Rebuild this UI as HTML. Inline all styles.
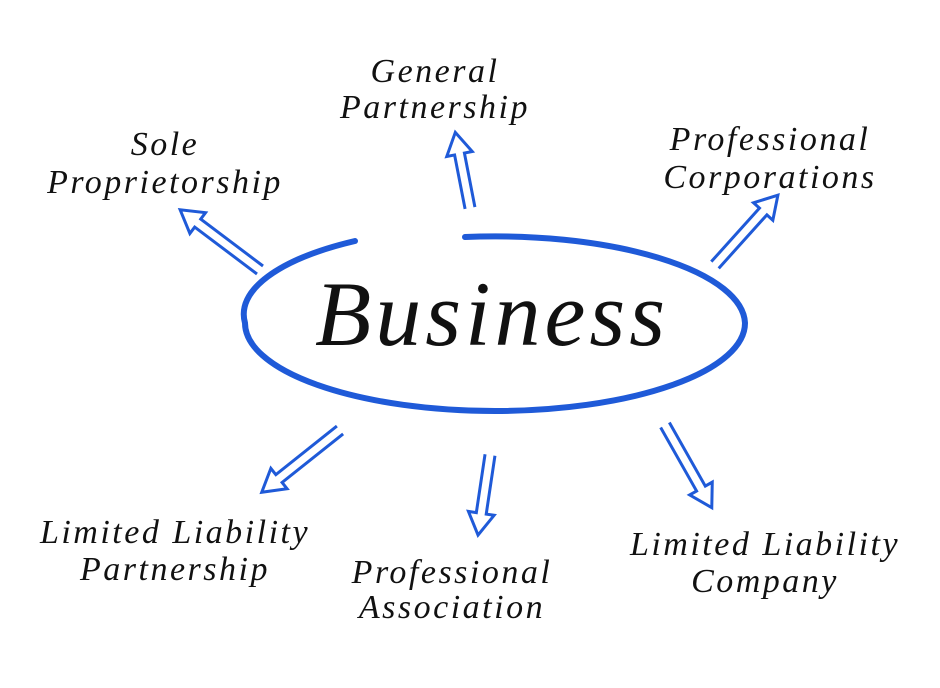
<!DOCTYPE html>
<html><head><meta charset="utf-8"><style>
html,body{margin:0;padding:0;background:#fff;}
svg{display:block;}
text{font-family:"Liberation Serif",serif;font-style:italic;fill:#111;}
</style></head><body>
<svg width="940" height="688" viewBox="0 0 940 688" xmlns="http://www.w3.org/2000/svg">
<path d="M465 237 A250 88 0 0 1 745 323 A250 88 0 0 1 245 323 A250 88 0 0 1 355 241" fill="none" stroke="#1f5ad8" stroke-width="6" stroke-linecap="round"/>
<text x="492" y="345" font-size="92" letter-spacing="4" text-anchor="middle">Business</text>

<g font-size="34" letter-spacing="2.5" text-anchor="middle">
<text x="435" y="82">General</text><text x="435" y="118">Partnership</text>
<text x="165" y="155">Sole</text><text x="165" y="193">Proprietorship</text>
<text x="770" y="150">Professional</text><text x="770" y="188">Corporations</text>
<text x="175" y="543">Limited Liability</text><text x="175" y="580">Partnership</text>
<text x="452" y="583">Professional</text><text x="452" y="618">Association</text>
<text x="765" y="555">Limited Liability</text><text x="765" y="592">Company</text>
</g>

<g fill="none" stroke="#1f5ad8" stroke-width="3">
<g transform="translate(470,208) rotate(-101)"><path d="M0 -5 L55 -5 L55 -13 L77 0 L55 13 L55 5 L0 5"/></g>
<g transform="translate(260,270) rotate(-143)"><path d="M0 -5 L78 -5 L78 -13 L100 0 L78 13 L78 5 L0 5"/></g>
<g transform="translate(715,265) rotate(-48)"><path d="M0 -5 L72 -5 L72 -13 L94 0 L72 13 L72 5 L0 5"/></g>
<g transform="translate(340,430) rotate(141.5)"><path d="M0 -5 L78 -5 L78 -13 L100 0 L78 13 L78 5 L0 5"/></g>
<g transform="translate(490,455) rotate(98.5)"><path d="M0 -5 L59 -5 L59 -13 L81 0 L59 13 L59 5 L0 5"/></g>
<g transform="translate(665,425) rotate(60.5)"><path d="M0 -5 L73 -5 L73 -13 L95 0 L73 13 L73 5 L0 5"/></g>
</g>
</svg>
</body></html>
